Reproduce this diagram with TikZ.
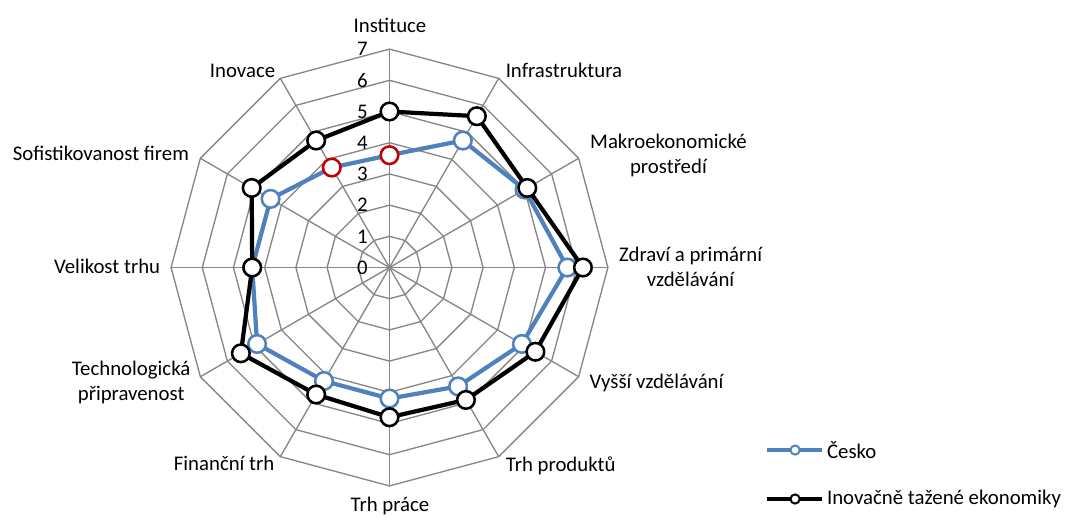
\documentclass[tikz,border=0pt]{standalone}
\usepackage{fontspec}
\setmainfont{Carlito}
\newcommand{\chartfont}{\fontsize{14.8}{17.8}\selectfont}
\definecolor{czblue}{RGB}{79,129,189}
\definecolor{czred}{RGB}{192,0,0}
\definecolor{gridgray}{RGB}{134,134,134}
\tikzset{
	gridline/.style={gridgray, line width=0.95pt},
	series/.style={line width=3pt, line join=round},
	dotmark/.style={circle, fill=white, line width=1.8pt, inner sep=0pt, minimum size=0.44cm},
	legmark/.style={circle, fill=white, line width=1.4pt, inner sep=0pt, minimum size=0.23cm},
	axislabel/.style={inner sep=1pt, align=center}
}
\begin{document}
\begin{tikzpicture}[x=0.78cm, y=0.78cm, font=\chartfont]
			\useasboundingbox (-12.484,-7.997) rectangle (21.811,8.574);
			%rings
			\foreach \r in {1,...,7}{
				\draw[gridline] (90:\r) \foreach \k in {1,...,11}{ -- (90-30*\k:\r)} -- cycle;
			}
			%spokes
			\coordinate (o) at (0,0);
			\foreach \k in {0,...,11}{
				\coordinate (s\k) at (90-30*\k:7);
				\draw[gridline] (o) -- (s\k);
			}
			%scale
			\foreach \y in {0,...,7}{
				\node[axislabel, anchor=east] (t\y) at (-0.645, \y){\y};
			}
			%axis names
			\node[axislabel] (l0) at (0.016, 7.75){Instituce};
			\node[axislabel] (l1) at (5.59, 6.33){Infrastruktura};
			\node[axislabel] (l2) at (8.94, 3.58){Makroekonomické\\prostředí};
			\node[axislabel] (l3) at (9.65, 0.03){Zdraví a primární\\vzdělávání};
			\node[axislabel] (l4) at (8.56, -3.69){Vyšší vzdělávání};
			\node[axislabel] (l5) at (5.49, -6.36){Trh produktů};
			\node[axislabel] (l6) at (0.016, -7.64){Trh práce};
			\node[axislabel] (l7) at (-5.30, -6.27){Finanční trh};
			\node[axislabel] (l8) at (-8.28, -3.67){Technologická\\připravenost};
			\node[axislabel] (l9) at (-9.05, 0.03){Velikost trhu};
			\node[axislabel] (l10) at (-9.25, 3.67){Sofistikovanost firem};
			\node[axislabel] (l11) at (-4.71, 6.29){Inovace};
			
			%Cesko
			\foreach \v [count=\k from 0] in {3.6, 4.7, 5.0, 5.7, 4.9, 4.4, 4.2, 4.2, 4.9, 4.4, 4.4, 3.7}{
				\coordinate (cz\k) at (90-30*\k:\v);
			}
			\draw[series, czblue] (cz0) \foreach \k in {1,...,11}{ -- (cz\k)} -- cycle;
			\foreach \k in {1,...,10}{
				\node[dotmark, draw=czblue] (mcz\k) at (cz\k){};
			}
			\node[dotmark, draw=czred] (mcz0) at (cz0){};
			\node[dotmark, draw=czred] (mcz11) at (cz11){};
			
			%innovation driven
			\foreach \v [count=\k from 0] in {5.0, 5.6, 5.1, 6.2, 5.4, 4.9, 4.8, 4.7, 5.5, 4.4, 5.1, 4.7}{
				\coordinate (ie\k) at (90-30*\k:\v);
			}
			\draw[series, black] (ie0) \foreach \k in {1,...,11}{ -- (ie\k)} -- cycle;
			\foreach \k in {0,...,11}{
				\node[dotmark, draw=black] (mie\k) at (ie\k){};
			}
			
			%legend
			\coordinate (a1) at (12.09, -5.85);
			\coordinate (b1) at (13.85, -5.85);
			\draw[series, czblue] (a1) -- (b1);
			\node[legmark, draw=czblue] (k1) at (13.0, -5.85){};
			\node[axislabel, anchor=west] (n1) at (13.97, -5.85){Česko};
			\coordinate (a2) at (12.09, -7.42);
			\coordinate (b2) at (13.85, -7.42);
			\draw[series, black] (a2) -- (b2);
			\node[legmark, draw=black] (k2) at (13.0, -7.42){};
			\node[axislabel, anchor=west] (n2) at (13.97, -7.42){Inovačně tažené ekonomiky};
		\end{tikzpicture}
\end{document}
